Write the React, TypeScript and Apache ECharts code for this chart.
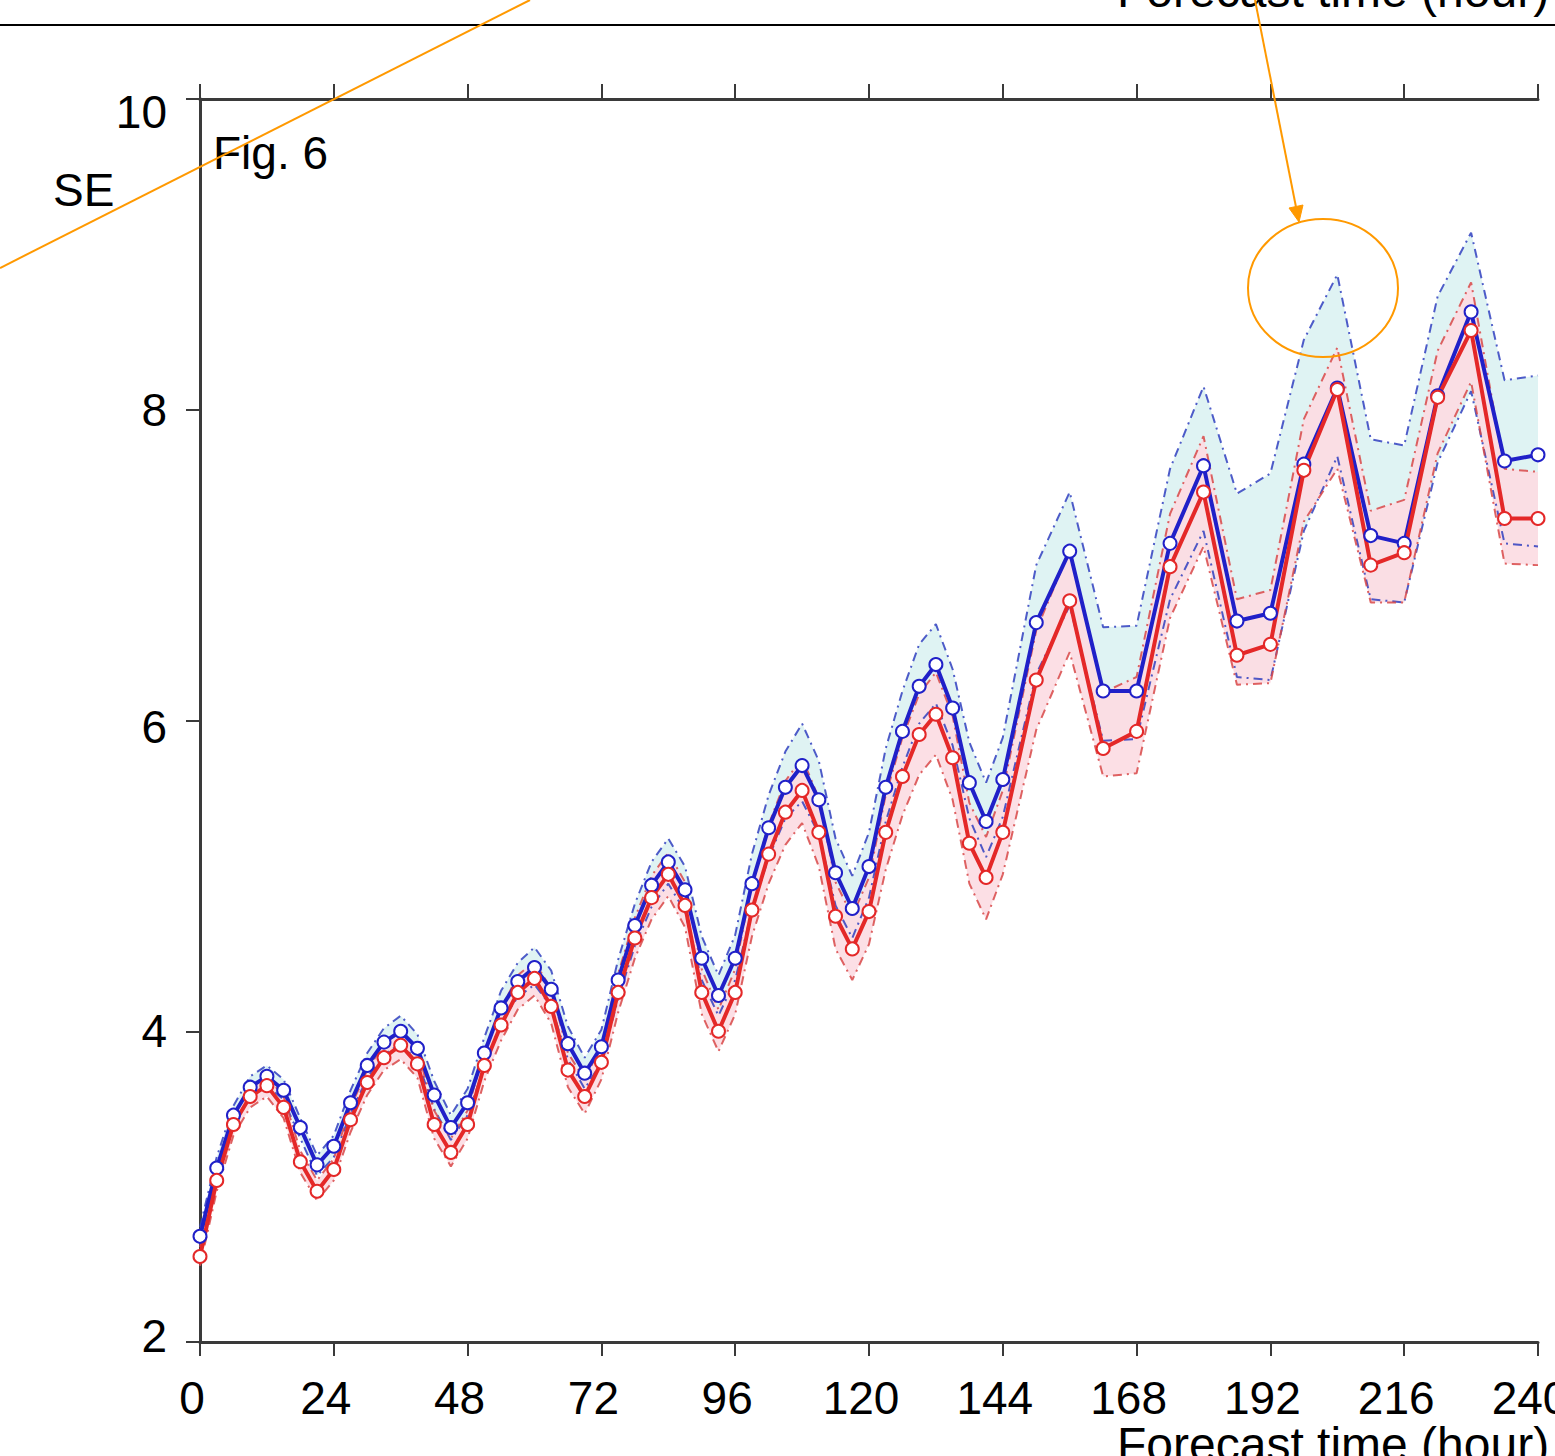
import React, { useEffect, useRef } from "react";
import * as echarts from "echarts";

const hours = [0,3,6,9,12,15,18,21,24,27,30,33,36,39,42,45,48,51,54,57,60,63,66,69,72,75,78,81,84,87,90,93,96,99,102,105,108,111,114,117,120,123,126,129,132,135,138,141,144,
  150,156,162,168,174,180,186,192,198,204,210,216,222,228,234,240];

const blueMean = [2.68,3.12,3.46,3.64,3.71,3.62,3.38,3.14,3.26,3.54,3.78,3.93,4.00,3.89,3.59,3.38,3.54,3.86,4.15,4.32,4.41,4.27,3.92,3.73,3.90,4.33,4.68,4.94,5.09,4.91,4.47,4.23,4.47,4.95,5.31,5.57,5.71,5.49,5.02,4.79,5.06,5.57,5.93,6.22,6.36,6.08,5.60,5.35,5.62,
  6.63,7.09,6.19,6.19,7.14,7.64,6.64,6.69,7.65,8.14,7.19,7.14,8.09,8.63,7.67,7.71];
const redMean = [2.55,3.04,3.40,3.58,3.65,3.51,3.16,2.97,3.11,3.43,3.67,3.83,3.91,3.79,3.40,3.22,3.40,3.78,4.04,4.25,4.34,4.16,3.75,3.58,3.80,4.25,4.60,4.86,5.01,4.81,4.25,4.00,4.25,4.78,5.14,5.41,5.55,5.28,4.74,4.53,4.77,5.28,5.64,5.91,6.04,5.76,5.21,4.99,5.28,
  6.26,6.77,5.82,5.93,6.99,7.47,6.42,6.49,7.61,8.13,7.00,7.08,8.08,8.51,7.30,7.30];

const blueUpper = [2.74,3.19,3.52,3.71,3.78,3.69,3.44,3.20,3.33,3.62,3.86,4.02,4.10,3.98,3.68,3.46,3.63,3.96,4.26,4.44,4.54,4.39,4.03,3.83,4.01,4.46,4.82,5.09,5.24,5.06,4.61,4.36,4.62,5.14,5.52,5.80,5.98,5.74,5.24,5.00,5.28,5.82,6.19,6.49,6.62,6.33,5.86,5.60,5.89,
  7.00,7.47,6.60,6.61,7.62,8.15,7.46,7.59,8.45,8.87,7.81,7.77,8.73,9.14,8.19,8.22];
const blueLower = [2.62,3.06,3.40,3.58,3.65,3.56,3.31,3.07,3.19,3.47,3.70,3.85,3.92,3.81,3.50,3.30,3.46,3.77,4.06,4.22,4.30,4.16,3.82,3.63,3.80,4.21,4.55,4.80,4.95,4.77,4.33,4.10,4.33,4.78,5.12,5.37,5.48,5.27,4.81,4.60,4.86,5.35,5.70,5.98,6.11,5.84,5.37,5.12,5.38,
  6.30,6.74,5.87,5.88,6.78,7.22,6.28,6.26,7.22,7.70,6.78,6.76,7.66,8.12,7.14,7.12];
const redUpper = [2.61,3.10,3.46,3.64,3.71,3.58,3.23,3.04,3.18,3.51,3.75,3.92,4.00,3.88,3.49,3.31,3.49,3.88,4.14,4.36,4.45,4.27,3.86,3.69,3.91,4.37,4.73,5.00,5.15,4.96,4.40,4.14,4.40,4.95,5.33,5.61,5.76,5.50,4.96,4.74,4.99,5.52,5.89,6.17,6.31,6.03,5.47,5.25,5.55,
  6.58,7.10,6.18,6.28,7.33,7.83,6.78,6.84,7.94,8.40,7.35,7.42,8.38,8.82,7.62,7.60];
const redLower = [2.49,2.97,3.33,3.51,3.58,3.44,3.09,2.91,3.04,3.35,3.59,3.75,3.82,3.70,3.31,3.13,3.31,3.68,3.94,4.14,4.23,4.05,3.64,3.47,3.69,4.12,4.47,4.72,4.87,4.67,4.11,3.87,4.11,4.61,4.95,5.20,5.34,5.06,4.53,4.33,4.56,5.04,5.39,5.65,5.78,5.49,4.95,4.72,5.01,
  5.94,6.44,5.64,5.66,6.66,7.12,6.23,6.24,7.28,7.62,6.76,6.76,7.72,8.18,7.01,7.00];

const xTicks = [0, 24, 48, 72, 96, 120, 144, 168, 192, 216, 240];
const yTicks = [2, 4, 6, 8, 10];

const FONT = "'Liberation Sans', Arial, sans-serif";
const BLUE = "#2020c8";
const RED = "#e42828";

function pairs(ys: number[]) {
  return hours.map((h, i) => [h, ys[i]]);
}

function bandSeries(upper: number[], lower: number[], fill: string, z: number) {
  return {
    type: "custom",
    data: [[0, 2]],
    silent: true,
    z,
    renderItem: (_p: any, api: any) => {
      const pts: number[][] = [];
      hours.forEach((h, i) => pts.push(api.coord([h, upper[i]])));
      for (let i = hours.length - 1; i >= 0; i--) pts.push(api.coord([hours[i], lower[i]]));
      return { type: "polygon", shape: { points: pts }, style: { fill, stroke: "none" } };
    },
  };
}

function edgeSeries(ys: number[], color: string) {
  return {
    type: "line",
    data: pairs(ys),
    showSymbol: false,
    symbol: "none",
    silent: true,
    z: 3,
    lineStyle: { color, width: 2, type: [9, 5, 2, 5], opacity: 0.85 },
  };
}

function meanSeries(ys: number[], color: string) {
  return {
    type: "line",
    data: pairs(ys),
    symbol: "emptyCircle",
    symbolSize: 13,
    z: 5,
    lineStyle: { color, width: 4 },
    itemStyle: { color, borderColor: color, borderWidth: 3.5 },
  };
}

export default function App() {
  const ref = useRef<HTMLDivElement>(null);
  useEffect(() => {
    const chart = echarts.init(ref.current!, undefined, { renderer: "svg" });
    const axisLineStyle = { color: "#3a3a3a", width: 3 };
    const tickStyle = { color: "#3a3a3a", width: 2 };
    chart.setOption({
      animation: false,
      backgroundColor: "#ffffff",
      grid: { left: 200, right: 17, top: 99, bottom: 114, outerBoundsMode: "none", containLabel: false },
      xAxis: [
        {
          type: "value",
          position: "bottom",
          min: 0,
          max: 240,
          interval: 24,
          axisLine: { show: true, lineStyle: axisLineStyle },
          axisTick: { show: true, inside: false, length: 14, lineStyle: tickStyle },
          axisLabel: {
            show: true,
            margin: 33,
            fontSize: 46,
            fontFamily: FONT,
            color: "#000",
            padding: [0, 16, 0, 0],
            hideOverlap: false,
            formatter: (v: number) => (xTicks.includes(v) ? String(v) : ""),
          },
          splitLine: { show: false },
        },
        {
          type: "value",
          position: "top",
          min: 0,
          max: 240,
          interval: 24,
          axisLine: { show: true, lineStyle: axisLineStyle },
          axisTick: { show: true, inside: false, length: 15, lineStyle: tickStyle },
          axisLabel: { show: false },
          splitLine: { show: false },
        },
      ],
      yAxis: [
        {
          type: "value",
          position: "left",
          min: 2,
          max: 10,
          interval: 2,
          axisLine: { show: true, lineStyle: axisLineStyle },
          axisTick: { show: true, inside: false, length: 14, lineStyle: tickStyle },
          axisLabel: {
            show: true,
            margin: 33,
            fontSize: 46,
            fontFamily: FONT,
            color: "#000",
            formatter: (v: number) => {
              if (!yTicks.includes(v)) return "";
              if (v === 10) return "{low|10}";
              if (v === 6) return "{low2|6}";
              if (v === 2) return "{high|2}";
              return String(v);
            },
            rich: {
              low: { fontSize: 46, fontFamily: FONT, color: "#000", padding: [26, 0, 0, 0] },
              low2: { fontSize: 46, fontFamily: FONT, color: "#000", padding: [12, 0, 0, 0] },
              high: { fontSize: 46, fontFamily: FONT, color: "#000", padding: [0, 0, 12, 0] },
            },
          },
          splitLine: { show: false },
        },
        {
          type: "value",
          position: "right",
          min: 2,
          max: 10,
          interval: 2,
          axisLine: { show: true, lineStyle: axisLineStyle },
          axisTick: { show: false },
          axisLabel: { show: false },
          splitLine: { show: false },
        },
      ],
      series: [
        bandSeries(blueUpper, blueLower, "#dff3f3", 1),
        bandSeries(redUpper, redLower, "rgba(252,220,227,0.92)", 2),
        edgeSeries(blueUpper, "#3040c0"),
        edgeSeries(blueLower, "#3040c0"),
        edgeSeries(redUpper, "#d84848"),
        edgeSeries(redLower, "#d84848"),
        meanSeries(blueMean, BLUE),
        meanSeries(redMean, RED),
      ],
      graphic: [
        { type: "line", z: 100, shape: { x1: 0, y1: 25, x2: 1555, y2: 25 }, style: { stroke: "#000", lineWidth: 2 } },
        {
          type: "text", z: 100, x: 1117, y: -10,
          style: { text: "Forecast time (hour)", font: `48px ${FONT}`, fill: "#000", verticalAlign: "middle", align: "left" },
        },
        {
          type: "text", z: 100, x: 1117, y: 1444,
          style: { text: "Forecast time (hour)", font: `48px ${FONT}`, fill: "#000", verticalAlign: "middle", align: "left" },
        },
        {
          type: "text", z: 100, x: 213, y: 153,
          style: { text: "Fig. 6", font: `46px ${FONT}`, fill: "#000", verticalAlign: "middle", align: "left" },
        },
        {
          type: "text", z: 100, x: 53, y: 190,
          style: { text: "SE", font: `46px ${FONT}`, fill: "#000", verticalAlign: "middle", align: "left" },
        },
        { type: "line", z: 101, shape: { x1: 0, y1: 268, x2: 530, y2: 0 }, style: { stroke: "#ff9900", lineWidth: 2 } },
        { type: "line", z: 101, shape: { x1: 1255, y1: 0, x2: 1296, y2: 207 }, style: { stroke: "#ff9900", lineWidth: 2 } },
        {
          type: "polygon", z: 101,
          shape: { points: [[1299, 222], [1303, 205], [1289, 208]] },
          style: { fill: "#ff9900", stroke: "#ff9900", lineWidth: 1 },
        },
        {
          type: "ellipse", z: 101,
          shape: { cx: 1323, cy: 288, rx: 75, ry: 69 },
          style: { fill: "none", stroke: "#ff9900", lineWidth: 2 },
        },
      ],
    });
    return () => chart.dispose();
  }, []);
  return (
    <div
      ref={ref}
      style={{ position: "absolute", left: 0, top: 0, width: 1555, height: 1456 }}
    />
  );
}
